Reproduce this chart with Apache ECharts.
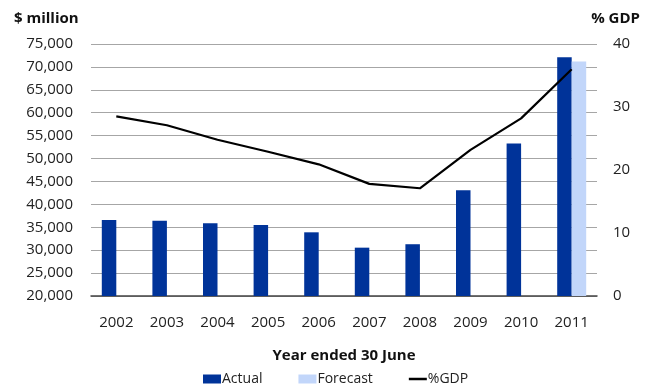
<!DOCTYPE html>
<html>
<head>
<meta charset="utf-8">
<script src="https://cdn.jsdelivr.net/npm/echarts@6/dist/echarts.min.js"></script>
<style>
html, body { margin: 0; padding: 0; background: #fff; }
#chart { width: 648px; height: 388px; }
</style>
</head>
<body>
<div id="chart"></div>
<script>
// years on the x axis
const years = ['2002', '2003', '2004', '2005', '2006', '2007', '2008', '2009', '2010', '2011']
// $ million
const actual = [36600, 36400, 35900, 35500, 33900, 30550, 31300, 43100, 53300, 72100]
const forecast = ['-', '-', '-', '-', '-', '-', '-', '-', '-', 71200]
// % of GDP
const pctGdp = [28.5, 27.1, 24.8, 22.9, 20.9, 17.8, 17.1, 23.2, 28.2, 36.0]

const font = 'Open Sans'
const chart = echarts.init(document.getElementById('chart'))

const option = {
  animation: false,
  textStyle: { fontFamily: font },
  grid: { left: 91, right: 51, top: 44, bottom: 92 },
  legend: {
    top: 372,
    left: 203,
    padding: 0,
    itemWidth: 18,
    itemHeight: 9,
    itemGap: 36,
    textStyle: { fontFamily: font, fontSize: 14, color: '#222', padding: [0, 0, 0, -4] },
    data: [
      { name: 'Actual', icon: 'rect' },
      { name: 'Forecast', icon: 'rect' },
      { name: '%GDP', icon: 'path://M0,0H18V2.5H0Z' }
    ]
  },
  graphic: [
    { type: 'text', left: 14, top: 11, style: { text: '$ million', font: 'bold 15px ' + font, fill: '#111' } },
    { type: 'text', right: 8, top: 11, style: { text: '% GDP', font: 'bold 15px ' + font, fill: '#111' } }
  ],
  xAxis: {
    type: 'category',
    data: years,
    name: 'Year ended 30 June',
    nameLocation: 'middle',
    nameGap: 52,
    nameTextStyle: { fontFamily: font, fontWeight: 'bold', fontSize: 15, color: '#111' },
    axisLine: { lineStyle: { color: '#444', width: 1.5 } },
    axisTick: { inside: true, length: 5, lineStyle: { color: '#444' } },
    axisLabel: { margin: 19, fontSize: 15, color: '#222', fontFamily: font }
  },
  yAxis: [
    {
      type: 'value',
      min: 20000,
      max: 75000,
      interval: 5000,
      axisLine: { show: false },
      axisTick: { show: false },
      axisLabel: {
        margin: 18,
        fontSize: 15,
        color: '#222',
        fontFamily: font,
        formatter: v => v.toLocaleString('en-US')
      },
      splitLine: { lineStyle: { color: '#a6a6a6', width: 1 } }
    },
    {
      type: 'value',
      min: 0,
      max: 40,
      interval: 10,
      axisLine: { show: false },
      axisTick: { show: false },
      axisLabel: { margin: 16, fontSize: 15, color: '#222', fontFamily: font },
      splitLine: { show: false }
    }
  ],
  series: [
    {
      name: 'Actual',
      type: 'bar',
      data: actual,
      barWidth: 14.5,
      barGap: '0%',
      itemStyle: { color: '#003399' }
    },
    {
      name: 'Forecast',
      type: 'bar',
      data: forecast,
      barWidth: 14.5,
      itemStyle: { color: '#c2d6fa' }
    },
    {
      name: '%GDP',
      type: 'line',
      yAxisIndex: 1,
      data: pctGdp,
      symbol: 'none',
      lineStyle: { color: '#000', width: 2.2 },
      itemStyle: { color: '#000' },
      z: 5
    }
  ]
}

chart.setOption(option)
</script>
</body>
</html>
